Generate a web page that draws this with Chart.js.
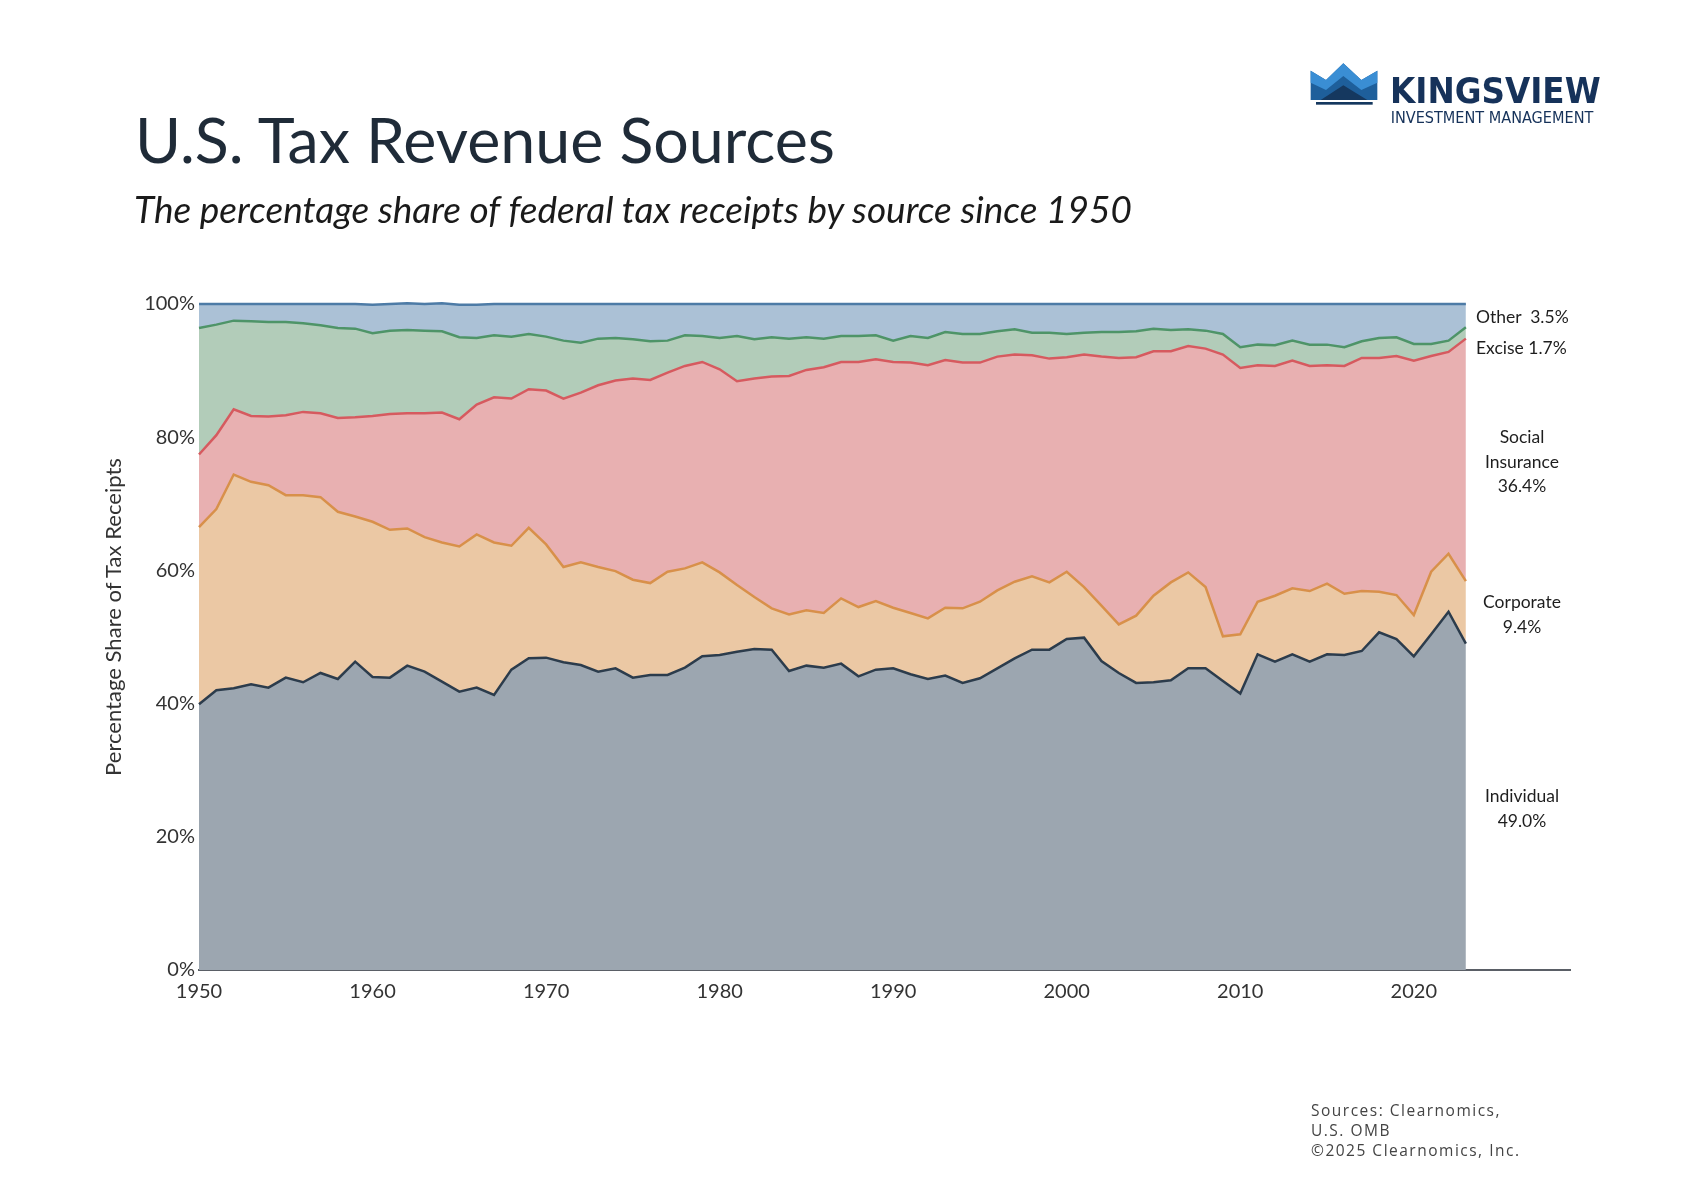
<!DOCTYPE html>
<html>
<head>
<meta charset="utf-8">
<script src="https://cdn.jsdelivr.net/npm/chart.js@4.4.1/dist/chart.umd.min.js"></script>
<style>
  html, body { margin: 0; padding: 0; background: #ffffff; }
  #wrap { position: relative; width: 1704px; height: 1200px; overflow: hidden; background: #fff; }
  #chart { position: absolute; left: 0; top: 0; }
  #overlay { position: absolute; left: 0; top: 0; pointer-events: none; }
</style>
</head>
<body>
<div id="wrap">
  <canvas id="chart" width="1704" height="1200"></canvas>
  <svg id="overlay" width="1704" height="1200" xmlns="http://www.w3.org/2000/svg">
    <!-- Logo -->
    <svg x="1290" y="50" width="340" height="90" viewBox="0 0 1020 270">
      <polygon points="62,62 108,90 160,40 214,90 262,62 262,150 62,150" fill="#1e5f9b"/>
      <polygon points="62,62 108,90 160,40 214,90 262,62 262,98 214,120 160,78 108,120 62,98" fill="#3a8ed4"/>
      <polygon points="92,150 160,106 232,150" fill="#15385f"/>
      <rect x="78" y="156" width="170" height="8" fill="#15385f"/>
      <text x="300" y="160" font-family="'DejaVu Sans Condensed','Liberation Sans Narrow','DejaVu Sans',sans-serif" font-weight="bold" font-size="104" fill="#16325a" textLength="632" lengthAdjust="spacingAndGlyphs">KINGSVIEW</text>
      <text x="302" y="218" font-family="'DejaVu Sans Condensed','Liberation Sans Narrow','DejaVu Sans',sans-serif" font-size="50" fill="#16325a" textLength="608" lengthAdjust="spacingAndGlyphs">INVESTMENT MANAGEMENT</text>
    </svg>

    <text id="title" x="135" y="163" font-family="Lato, 'Open Sans', sans-serif" font-size="54" fill="#1f2b38">U.S. Tax Revenue Sources</text>
    <text id="subtitle" x="134" y="223" font-family="Lato, 'Open Sans', sans-serif" font-style="italic" font-size="32" fill="#1a1a1a">The percentage share of federal tax receipts by source since 1950</text>

    <text id="ytitle" transform="translate(112,617) rotate(-90)" text-anchor="middle" dominant-baseline="central" font-family="Lato, sans-serif" font-size="20" fill="#333">Percentage Share of Tax Receipts</text>

    <g font-family="Lato, sans-serif" font-size="17.5" fill="#1e1e1e">
      <text x="1476" y="316" dominant-baseline="central" xml:space="preserve">Other  3.5%</text>
      <text x="1476" y="347" dominant-baseline="central">Excise  1.7%</text>
      <text x="1522" y="436" text-anchor="middle" dominant-baseline="central">Social</text>
      <text x="1522" y="461" text-anchor="middle" dominant-baseline="central">Insurance</text>
      <text x="1522" y="485" text-anchor="middle" dominant-baseline="central">36.4%</text>
      <text x="1522" y="601" text-anchor="middle" dominant-baseline="central">Corporate</text>
      <text x="1522" y="626" text-anchor="middle" dominant-baseline="central">9.4%</text>
      <text x="1522" y="795" text-anchor="middle" dominant-baseline="central">Individual</text>
      <text x="1522" y="820" text-anchor="middle" dominant-baseline="central">49.0%</text>
    </g>

    <g font-family="'Open Sans', Lato, sans-serif" font-size="15.5" fill="#444" letter-spacing="1.5">
      <text x="1311" y="1116">Sources: Clearnomics,</text>
      <text x="1311" y="1136">U.S. OMB</text>
      <text x="1311" y="1156">©2025 Clearnomics, Inc.</text>
    </g>
  </svg>
</div>

<script>
// ---------------- Data ----------------
const years = [
  1950,1951,1952,1953,1954,1955,1956,1957,1958,1959,
  1960,1961,1962,1963,1964,1965,1966,1967,1968,1969,
  1970,1971,1972,1973,1974,1975,1976,1977,1978,1979,
  1980,1981,1982,1983,1984,1985,1986,1987,1988,1989,
  1990,1991,1992,1993,1994,1995,1996,1997,1998,1999,
  2000,2001,2002,2003,2004,2005,2006,2007,2008,2009,
  2010,2011,2012,2013,2014,2015,2016,2017,2018,2019,
  2020,2021,2022,2023
];

const individual = [
  39.9,42.0,42.3,42.9,42.4,43.9,43.2,44.6,43.7,46.3,
  44.0,43.9,45.7,44.8,43.3,41.8,42.4,41.3,45.1,46.8,
  46.9,46.2,45.8,44.8,45.3,43.9,44.3,44.3,45.4,47.1,
  47.3,47.8,48.2,48.1,44.9,45.7,45.4,46.0,44.1,45.1,
  45.3,44.4,43.7,44.2,43.1,43.8,45.3,46.8,48.1,48.1,
  49.7,49.9,46.4,44.6,43.1,43.2,43.5,45.3,45.3,43.4,
  41.5,47.4,46.3,47.4,46.3,47.4,47.3,47.9,50.7,49.7,
  47.1,50.4,53.8,49.0
];

const corporate = [
  26.6,27.2,32.1,30.4,30.4,27.4,28.1,26.4,25.1,21.8,
  23.3,22.2,20.6,20.2,20.9,21.8,23.0,22.9,18.6,19.6,
  17.0,14.3,15.4,15.7,14.6,14.7,13.8,15.5,14.9,14.1,
  12.4,10.0,7.8,6.2,8.5,8.3,8.2,9.8,10.4,10.3,
  9.1,9.2,9.1,10.2,11.2,11.5,11.7,11.5,11.0,10.1,
  10.1,7.6,8.3,7.3,10.1,13.0,14.7,14.4,12.2,6.7,
  8.9,7.9,9.9,9.9,10.6,10.6,9.2,9.0,6.1,6.6,
  6.2,9.4,8.7,9.4
];

const socialInsurance = [
  10.9,11.1,9.8,9.9,10.3,12.0,12.5,12.6,14.1,14.9,
  15.9,17.4,17.3,18.6,19.5,19.1,19.5,21.8,22.1,20.8,
  23.1,25.3,25.5,27.3,28.6,30.2,30.5,29.9,30.4,30.1,
  30.5,30.6,32.8,34.8,35.8,36.1,36.9,35.5,36.8,36.3,
  36.9,37.6,38.0,37.2,36.9,35.9,35.1,34.1,33.2,33.6,
  32.2,34.9,37.4,40.0,38.8,36.7,34.7,34.0,35.8,42.3,
  40.0,35.5,34.5,34.2,33.8,32.8,34.2,35.0,35.1,35.9,
  38.2,32.4,30.3,36.4
];

const excise = [
  19.0,16.6,13.3,14.2,14.2,14.0,13.3,13.2,13.5,13.3,
  12.4,12.5,12.5,12.4,12.2,12.3,10.0,9.3,9.3,8.3,
  8.1,8.7,7.5,7.0,6.4,5.9,5.8,4.8,4.6,3.9,
  4.7,6.8,5.9,5.9,5.6,4.9,4.3,3.9,3.9,3.6,
  3.2,4.0,4.1,4.2,4.3,4.3,3.8,3.8,3.4,3.9,
  3.5,3.3,3.7,3.9,3.9,3.4,3.2,2.5,2.7,3.1,
  3.1,3.1,3.1,3.0,3.2,3.1,2.8,2.5,3.0,2.8,
  2.5,1.8,1.7,1.7
];

const other = [
  3.6,3.1,2.5,2.6,2.7,2.7,2.9,3.2,3.6,3.7,
  4.3,4.0,4.0,4.0,4.2,4.9,5.0,4.7,4.9,4.5,
  4.9,5.5,5.8,5.2,5.1,5.3,5.6,5.5,4.7,4.8,
  5.1,4.8,5.3,5.0,5.2,5.0,5.2,4.8,4.8,4.7,
  5.5,4.8,5.1,4.2,4.5,4.5,4.1,3.8,4.3,4.3,
  4.5,4.3,4.2,4.2,4.1,3.7,3.9,3.8,4.0,4.5,
  6.5,6.1,6.2,5.5,6.1,6.1,6.5,5.6,5.1,5.0,
  6.0,6.0,5.5,3.5
];

const yTicks = [0, 20, 40, 60, 80, 100];
const xTicks = [1950, 1960, 1970, 1980, 1990, 2000, 2010, 2020];

const seriesNames = ['Individual', 'Corporate', 'Social Insurance', 'Excise', 'Other'];
const seriesValues = [individual, corporate, socialInsurance, excise, other];
const fillColors = ['#9ca6b0', '#ebc8a4', '#e8b0b1', '#b2ccb9', '#abc1d6'];
const lineColors = ['#2c3c4c', '#d8904a', '#d65a5f', '#4e9468', '#4d7ba6'];

// ---------------- Chart ----------------
const datasets = seriesNames.map((name, i) => ({
  label: name,
  data: years.map((yr, k) => ({ x: yr, y: seriesValues[i][k] })),
  backgroundColor: fillColors[i],
  borderColor: lineColors[i],
  borderWidth: 2.5,
  pointRadius: 0,
  tension: 0,
  clip: false,
  fill: i === 0 ? 'origin' : '-1'
}));

new Chart(document.getElementById('chart'), {
  type: 'line',
  data: { datasets },
  options: {
    responsive: false,
    animation: false,
    devicePixelRatio: 1,
    layout: { padding: { left: 90, top: 304, right: 134, bottom: 190 } },
    plugins: { legend: { display: false }, tooltip: { enabled: false } },
    scales: {
      x: {
        type: 'linear',
        min: 1950,
        max: 2029,
        afterFit: (s) => { s.height = 40; },
        afterBuildTicks: (s) => { s.ticks = xTicks.map(v => ({ value: v })); },
        ticks: {
          includeBounds: false,
          padding: 10,
          color: '#333',
          font: { family: 'Lato', size: 20 },
          callback: (v) => String(v),
          maxRotation: 0
        },
        grid: { display: false, drawTicks: false },
        border: { display: true, color: '#5a5f66', width: 2 }
      },
      y: {
        stacked: true,
        min: 0,
        max: 100,
        afterFit: (s) => { s.width = 109; },
        afterBuildTicks: (s) => { s.ticks = yTicks.map(v => ({ value: v })); },
        ticks: {
          padding: 4,
          color: '#333',
          font: { family: 'Lato', size: 20 },
          callback: (v) => v + '%'
        },
        grid: { display: false, drawTicks: false },
        border: { display: false }
      }
    }
  }
});

// fit title widths to the reference
function fit(id, target) {
  const el = document.getElementById(id);
  const fs = parseFloat(el.getAttribute('font-size'));
  const len = el.getComputedTextLength();
  if (len > 0) el.setAttribute('font-size', (fs * target / len).toFixed(2));
}
fit('title', 700);
fit('subtitle', 998);
fit('ytitle', 318);
</script>
</body>
</html>
